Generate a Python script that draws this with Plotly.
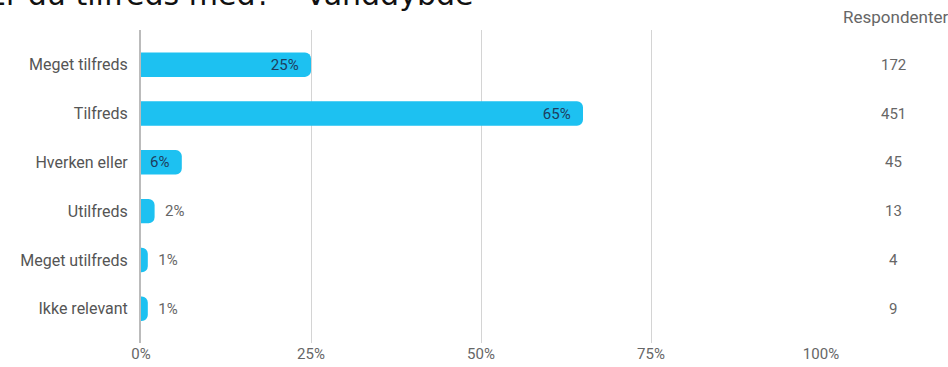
import plotly.graph_objects as go

categories = ["Meget tilfreds", "Tilfreds", "Hverken eller", "Utilfreds", "Meget utilfreds", "Ikke relevant"]
percent = [25, 65, 6, 2, 1, 1]
respondents = [172, 451, 45, 13, 4, 9]
x_ticks = [0, 25, 50, 75, 100]
x_tick_labels = ["0%", "25%", "50%", "75%", "100%"]
title_text = "Er du tilfreds med? \u2013 Vanddybde"

BAR = "#1dc1f1"
W, H = 948, 367
L, R, T, B = 141, 127, 30, 24
pw = W - L - R
ph = H - T - B
NB = "\u00a0"

positions = ["inside" if v >= 5 else "outside" for v in percent]
labels = [f"{v}%{NB}{NB}" if p == "inside" else f"{NB}{NB}{v}%" for v, p in zip(percent, positions)]

fig = go.Figure(go.Bar(
    y=categories, x=percent, orientation="h",
    marker=dict(color=BAR, line=dict(width=0)),
    width=0.5,
    text=labels,
    textposition=positions,
    insidetextanchor="end",
    insidetextfont=dict(family="Roboto", size=15, color="#1d3d5e"),
    outsidetextfont=dict(family="Roboto", size=15, color="#666666"),
    textangle=0,
    constraintext="none",
    cliponaxis=False,
    hoverinfo="skip",
))

annotations = []
for c, n in zip(categories, respondents):
    annotations.append(dict(
        x=(893 - L) / pw, xref="paper", y=c, yref="y",
        text=str(n), showarrow=False, xanchor="center", yanchor="middle",
        font=dict(family="Roboto", size=15, color="#666666"),
    ))
annotations.append(dict(
    x=(895 - L) / pw, xref="paper", y=1 + (T - 17) / ph, yref="paper",
    text="Respondenter", showarrow=False, xanchor="center", yanchor="middle",
    font=dict(family="Roboto", size=17, color="#666666"),
))
annotations.append(dict(
    x=(-15 - L) / pw, xref="paper", y=1 + (T + 6) / ph, yref="paper",
    text=title_text, showarrow=False, xanchor="left", yanchor="middle",
    font=dict(family="DejaVu Sans", size=30, color="#111111"),
))

fig.update_layout(
    width=W, height=H,
    margin=dict(l=L, r=R, t=T, b=B, autoexpand=False),
    paper_bgcolor="white", plot_bgcolor="white",
    showlegend=False,
    barcornerradius=6,
    annotations=annotations,
    xaxis=dict(
        range=[0, 100], tickvals=x_ticks, ticktext=x_tick_labels,
        showgrid=True, gridcolor="#d4d4d4", gridwidth=1,
        zeroline=False, showline=False, automargin=False,
        tickfont=dict(family="Roboto", size=15, color="#666666"),
        fixedrange=True,
    ),
    yaxis=dict(
        categoryorder="array", categoryarray=categories,
        range=[5.7, -0.71], automargin=False,
        showgrid=False, zeroline=False, showline=True, linecolor="#bbbbbb", linewidth=2,
        ticks="", ticklabelstandoff=8,
        tickfont=dict(family="Roboto", size=16, color="#555555"),
        fixedrange=True,
    ),
)

fig.write_html("out.html", config={"displayModeBar": False},
               post_script="document.body.style.margin='0px';")
